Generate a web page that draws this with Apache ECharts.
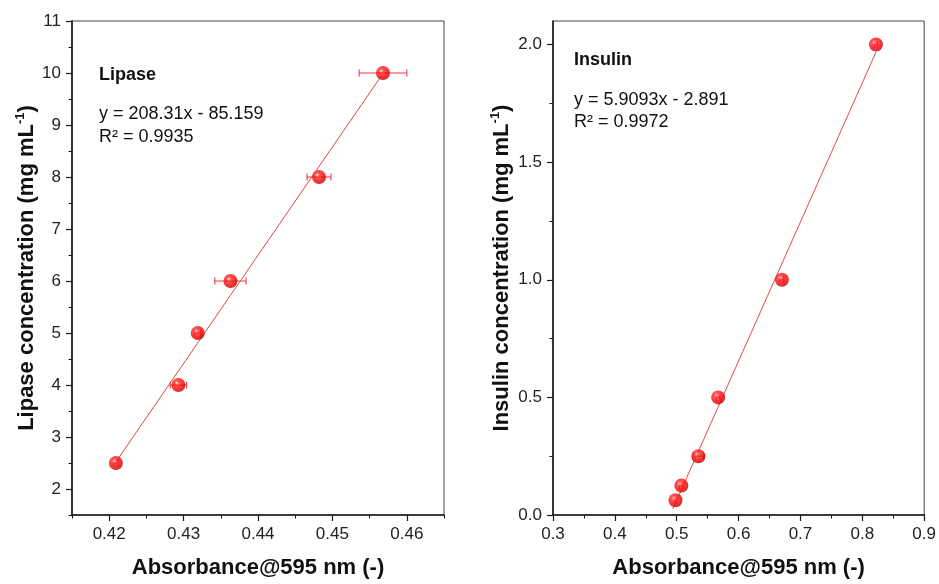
<!DOCTYPE html>
<html>
<head>
<meta charset="utf-8">
<script src="https://cdn.jsdelivr.net/npm/echarts@6.0.0/dist/echarts.min.js"></script>
<style>
html,body{margin:0;padding:0;background:#fff;}
#chart{width:939px;height:584px;}
</style>
</head>
<body>
<div id="chart"></div>
<script>
// ---------- Data ----------
var lipaseX    = [0.4209, 0.4293, 0.4319, 0.4363, 0.4482, 0.4568];
var lipaseY    = [2.5, 4, 5, 6, 8, 10];
var lipaseXErr = [0.0003, 0.0011, 0.0004, 0.0021, 0.0016, 0.0032];
var lipaseFitX = [0.4209, 0.4566];
var lipaseFitY = [2.52, 9.95];

var insulinX    = [0.498, 0.5075, 0.535, 0.567, 0.670, 0.822];
var insulinY    = [0.0625, 0.125, 0.25, 0.5, 1.0, 2.0];
var insulinXErr = [0.002, 0.003, 0.009, 0.003, 0.003, 0.002];
var insulinFitX = [0.4935, 0.8225];
var insulinFitY = [0.025, 1.97];

var lipaseXMajor  = [0.42, 0.43, 0.44, 0.45, 0.46];
var lipaseXMinor  = [0.415, 0.425, 0.435, 0.445, 0.455, 0.465];
var lipaseYMajor  = [2, 3, 4, 5, 6, 7, 8, 9, 10, 11];
var lipaseYMinor  = [1.5, 2.5, 3.5, 4.5, 5.5, 6.5, 7.5, 8.5, 9.5, 10.5];
var insulinXMajor = [0.3, 0.4, 0.5, 0.6, 0.7, 0.8, 0.9];
var insulinXMinor = [0.35, 0.45, 0.55, 0.65, 0.75, 0.85];
var insulinYMajor = [0.0, 0.5, 1.0, 1.5, 2.0];
var insulinYMinor = [0.25, 0.75, 1.25, 1.75];

var lipaseLabel   = 'Lipase';
var lipaseEq      = 'y = 208.31x - 85.159';
var lipaseR2      = 'R\u00b2 = 0.9935';
var insulinLabel  = 'Insulin';
var insulinEq     = 'y = 5.9093x - 2.891';
var insulinR2     = 'R\u00b2 = 0.9972';
var xTitle        = 'Absorbance@595 nm (-)';
// ------------------------------------------------------------

var FONT = "'Liberation Sans', Arial, sans-serif";
var AX = '#1a1a1a';

function zip(a, b, c) {
  return a.map(function (v, i) { return c ? [v, b[i], c[i]] : [v, b[i]]; });
}

var sphere = {
  type: 'radial', x: 0.38, y: 0.35, r: 0.65,
  colorStops: [
    { offset: 0, color: '#ffd6d6' },
    { offset: 0.25, color: '#ff2a2a' },
    { offset: 0.75, color: '#f20000' },
    { offset: 1, color: '#b80000' }
  ]
};

function errRender(params, api) {
  var x = api.value(0), y = api.value(1), e = api.value(2);
  var p1 = api.coord([x - e, y]);
  var p2 = api.coord([x + e, y]);
  var h = 3.5;
  var st = { stroke: '#f03a3a', lineWidth: 1.1 };
  return {
    type: 'group',
    children: [
      { type: 'line', shape: { x1: p1[0], y1: p1[1], x2: p2[0], y2: p2[1] }, style: st },
      { type: 'line', shape: { x1: p1[0], y1: p1[1] - h, x2: p1[0], y2: p1[1] + h }, style: st },
      { type: 'line', shape: { x1: p2[0], y1: p2[1] - h, x2: p2[0], y2: p2[1] + h }, style: st }
    ]
  };
}

function majorAxis(grid, pos, min, max, vals, fmt, name, nameGap) {
  return {
    type: 'value', gridIndex: grid, position: pos, offset: 0, min: min, max: max,
    axisLine: { show: true, onZero: false, lineStyle: { color: AX, width: 1.6 } },
    axisTick: { show: true, inside: false, length: 6, customValues: vals, lineStyle: { color: AX, width: 1.2 } },
    axisLabel: { show: true, customValues: vals, formatter: fmt, fontSize: 17, fontFamily: FONT, color: '#222', margin: 11 },
    splitLine: { show: false },
    name: name, nameLocation: 'middle', nameGap: nameGap
  };
}
function minorAxis(grid, pos, min, max, vals) {
  return {
    type: 'value', gridIndex: grid, position: pos, offset: 0, min: min, max: max,
    axisLine: { show: false, onZero: false },
    axisTick: { show: true, inside: false, length: 3.5, customValues: vals, lineStyle: { color: AX, width: 1.1 } },
    axisLabel: { show: false },
    splitLine: { show: false }
  };
}

var xNameStyle = { fontSize: 22, fontWeight: 'bold', fontFamily: FONT, color: '#111' };
function yNameStyle() {
  return {
    rich: {
      b: { fontSize: 22, fontWeight: 'bold', fontFamily: FONT, color: '#111', lineHeight: 26 },
      s: { fontSize: 13, fontWeight: 'bold', fontFamily: FONT, color: '#111', verticalAlign: 'top', lineHeight: 26 }
    }
  };
}

var xA0 = majorAxis(0, 'bottom', 0.415, 0.465, lipaseXMajor, function (v) { return (+v).toFixed(2); }, xTitle, 42);
xA0.nameTextStyle = xNameStyle;
var xA1 = majorAxis(1, 'bottom', 0.3, 0.9, insulinXMajor, function (v) { return (+v).toFixed(1); }, xTitle, 42);
xA1.nameTextStyle = xNameStyle;

var yA0 = majorAxis(0, 'left', 1.5, 11, lipaseYMajor, function (v) { return String(Math.round(v)); },
  '{b|Lipase concentration (mg mL}{s|-1}{b|)}', 31);
yA0.nameTextStyle = yNameStyle();
var yA1 = majorAxis(1, 'left', 0, 2.1, insulinYMajor, function (v) { return (+v).toFixed(1); },
  '{b|Insulin concentration (mg mL}{s|-1}{b|)}', 38);
yA1.nameTextStyle = yNameStyle();

var option = {
  backgroundColor: '#ffffff',
  animation: false,
  grid: [
    { left: 72, top: 21, right: 495, bottom: 66, show: true, borderColor: '#444', borderWidth: 1, backgroundColor: 'transparent' },
    { left: 553, top: 21, right: 13, bottom: 66, show: true, borderColor: '#444', borderWidth: 1, backgroundColor: 'transparent' }
  ],
  xAxis: [
    xA0, xA1,
    minorAxis(0, 'bottom', 0.415, 0.465, lipaseXMinor),
    minorAxis(1, 'bottom', 0.3, 0.9, insulinXMinor)
  ],
  yAxis: [
    yA0, yA1,
    minorAxis(0, 'left', 1.5, 11, lipaseYMinor),
    minorAxis(1, 'left', 0, 2.1, insulinYMinor)
  ],
  series: [
    { type: 'line', xAxisIndex: 0, yAxisIndex: 0, data: zip(lipaseFitX, lipaseFitY), showSymbol: false, symbol: 'none',
      lineStyle: { color: '#e04848', width: 1 }, z: 2, silent: true },
    { type: 'line', xAxisIndex: 1, yAxisIndex: 1, data: zip(insulinFitX, insulinFitY), showSymbol: false, symbol: 'none',
      lineStyle: { color: '#e04848', width: 1 }, z: 2, silent: true },
    { type: 'custom', xAxisIndex: 0, yAxisIndex: 0, data: zip(lipaseX, lipaseY, lipaseXErr), renderItem: errRender,
      encode: { x: 0, y: 1 }, z: 3, silent: true },
    { type: 'custom', xAxisIndex: 1, yAxisIndex: 1, data: zip(insulinX, insulinY, insulinXErr), renderItem: errRender,
      encode: { x: 0, y: 1 }, z: 3, silent: true },
    { type: 'scatter', xAxisIndex: 0, yAxisIndex: 0, data: zip(lipaseX, lipaseY), symbol: 'circle', symbolSize: 14,
      itemStyle: { color: sphere }, z: 4 },
    { type: 'scatter', xAxisIndex: 1, yAxisIndex: 1, data: zip(insulinX, insulinY), symbol: 'circle', symbolSize: 14,
      itemStyle: { color: sphere }, z: 4 }
  ],
  graphic: [
    { type: 'text', x: 99, y: 75, style: { text: lipaseLabel, font: 'bold 18px ' + FONT, fill: '#111', textVerticalAlign: 'middle' } },
    { type: 'text', x: 99, y: 114, style: { text: lipaseEq, font: '18px ' + FONT, fill: '#111', textVerticalAlign: 'middle' } },
    { type: 'text', x: 99, y: 137, style: { text: lipaseR2, font: '18px ' + FONT, fill: '#111', textVerticalAlign: 'middle' } },
    { type: 'text', x: 574, y: 60, style: { text: insulinLabel, font: 'bold 18px ' + FONT, fill: '#111', textVerticalAlign: 'middle' } },
    { type: 'text', x: 574, y: 100, style: { text: insulinEq, font: '18px ' + FONT, fill: '#111', textVerticalAlign: 'middle' } },
    { type: 'text', x: 574, y: 122, style: { text: insulinR2, font: '18px ' + FONT, fill: '#111', textVerticalAlign: 'middle' } }
  ]
};

var chart = echarts.init(document.getElementById('chart'), null, { renderer: 'canvas' });
chart.setOption(option);
</script>
</body>
</html>
